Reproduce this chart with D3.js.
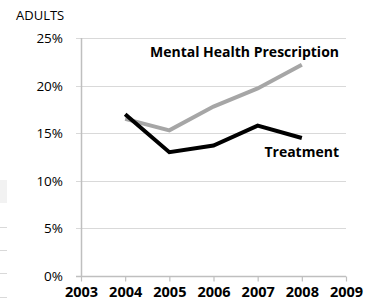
<!DOCTYPE html>
<html>
<head>
<meta charset="utf-8">
<script src="https://cdn.jsdelivr.net/npm/d3@7"></script>
<style>
  body { margin: 0; background: #fff; }
  svg { display: block; }
  text { font-family: "Open Sans", sans-serif; fill: #000; }
</style>
</head>
<body>
<svg id="chart" width="370" height="300"></svg>
<script>
// x axis runs 2003..2009, data exists 2004..2008
const years = [2004, 2005, 2006, 2007, 2008];
const axisYears = [2003, 2004, 2005, 2006, 2007, 2008, 2009];
const yTicks = [0, 5, 10, 15, 20, 25];
const prescription = [16.5, 15.3, 17.8, 19.7, 22.2];
const treatment = [17.0, 13.0, 13.7, 15.8, 14.5];

const svg = d3.select("#chart");
const x = d3.scaleLinear().domain([2003, 2009]).range([81, 346]);
const y = d3.scaleLinear().domain([0, 25]).range([276, 38]);

// leftover bits at the left edge of the picture
svg.append("rect").attr("x", 0).attr("y", 180).attr("width", 7).attr("height", 23).attr("fill", "#f2f2f2");
svg.append("g").selectAll("line").data([227, 250, 273, 297]).join("line")
  .attr("x1", 0).attr("x2", 7).attr("y1", d => d + 0.5).attr("y2", d => d + 0.5)
  .attr("stroke", "#d9d9d9");

// gridlines
svg.append("g").selectAll("line").data(yTicks.filter(d => d > 0)).join("line")
  .attr("x1", 76).attr("x2", 346)
  .attr("y1", d => Math.round(y(d)) + 0.5).attr("y2", d => Math.round(y(d)) + 0.5)
  .attr("stroke", "#d9d9d9");

// y axis line
svg.append("line").attr("x1", 81.5).attr("x2", 81.5).attr("y1", 38).attr("y2", 276)
  .attr("stroke", "#bfbfbf").attr("stroke-width", 1.5);

// x axis
const xAxis = d3.axisBottom(x).tickValues(axisYears).tickFormat(d3.format("d")).tickSizeOuter(0).tickSize(5).tickPadding(5);
const gx = svg.append("g").attr("transform", "translate(0,276.5)").call(xAxis);
gx.select(".domain").attr("stroke", "#bfbfbf").attr("stroke-width", 1.5).attr("d", "M76,0H346");
gx.selectAll(".tick line").attr("stroke", "#bfbfbf").attr("stroke-width", 1.2);
gx.selectAll(".tick text").attr("font-size", 14.5).attr("font-weight", "bold")
  .attr("font-family", "'Open Sans', sans-serif").attr("fill", "#000");

// y tick labels
svg.append("g").selectAll("text").data(yTicks).join("text")
  .attr("x", 63).attr("y", d => y(d) + 5)
  .attr("text-anchor", "end").attr("font-size", 13.5)
  .text(d => d + "%");

svg.append("text").attr("x", 16).attr("y", 20).attr("font-size", 13).text("ADULTS");

const line = d3.line().x((d, i) => x(years[i])).y(d => y(d));

svg.append("path").datum(prescription).attr("d", line)
  .attr("fill", "none").attr("stroke", "#a6a6a6").attr("stroke-width", 4);
svg.append("path").datum(treatment).attr("d", line)
  .attr("fill", "none").attr("stroke", "#000").attr("stroke-width", 4);

svg.append("text").attr("x", 339).attr("y", 57).attr("text-anchor", "end")
  .attr("font-size", 14).attr("font-weight", "bold").text("Mental Health Prescription");
svg.append("text").attr("x", 339).attr("y", 157).attr("text-anchor", "end")
  .attr("font-size", 14).attr("font-weight", "bold").text("Treatment");
</script>
</body>
</html>
